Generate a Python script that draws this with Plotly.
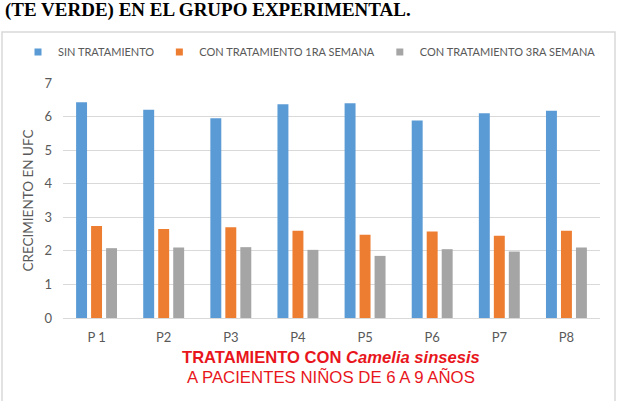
import plotly.graph_objects as go

categories = ["P 1", "P2", "P3", "P4", "P5", "P6", "P7", "P8"]
sin_tratamiento = [6.43, 6.20, 5.95, 6.37, 6.40, 5.88, 6.10, 6.17]
con_trat_1ra = [2.74, 2.65, 2.70, 2.60, 2.48, 2.58, 2.45, 2.60]
con_trat_3ra = [2.08, 2.10, 2.11, 2.03, 1.85, 2.05, 1.98, 2.10]
series_names = ["SIN TRATAMIENTO", "CON TRATAMIENTO 1RA SEMANA", "CON TRATAMIENTO 3RA SEMANA"]
colors = ["#5b9bd5", "#ed7d31", "#a5a5a5"]

fig = go.Figure()
for name, vals, col in zip(series_names, [sin_tratamiento, con_trat_1ra, con_trat_3ra], colors):
    fig.add_trace(go.Bar(x=categories, y=vals, name=name, marker_color=col,
                         marker_line_width=0, showlegend=False))
    fig.add_trace(go.Scatter(x=[None], y=[None], mode="markers", name=name,
                             marker=dict(symbol="square", size=7, color=col),
                             showlegend=True))

H_PLOT = 401 - 83 - 83

def py(p):
    # pixel from top -> paper y
    return (318 - p) / H_PLOT

def px(p):
    return (p - 63) / (622 - 63 - 22)

fig.update_layout(
    width=622, height=401,
    margin=dict(l=63, r=22, t=83, b=83, autoexpand=False),
    paper_bgcolor="white", plot_bgcolor="white",
    barmode="group", bargap=0.33, bargroupgap=0.27,
    font=dict(family="Lato, Open Sans, sans-serif", color="#595959", size=12),
    legend=dict(orientation="h", x=px(18), xanchor="left", y=py(52), yanchor="middle",
                font=dict(size=11, color="#595959"), itemwidth=30,
                bgcolor="rgba(0,0,0,0)"),
    xaxis=dict(showgrid=False, showline=True, linecolor="#d9d9d9", linewidth=1,
               ticks="", tickfont=dict(size=13, color="#595959"),
               ticklabelstandoff=7, fixedrange=True),
    yaxis=dict(range=[0, 7], dtick=1, showgrid=True, gridcolor="#d9d9d9", gridwidth=1,
               zeroline=False, showline=False, ticks="",
               tickfont=dict(size=13, color="#595959"), ticklabelstandoff=10,
               title=dict(text="CRECIMIENTO EN UFC", font=dict(size=13.5, color="#595959"),
                          standoff=7),
               fixedrange=True),
    shapes=[dict(type="rect", xref="paper", yref="paper",
                 x0=px(2), x1=px(615), y0=py(410), y1=py(32),
                 line=dict(color="#d9d9d9", width=1.5), fillcolor="rgba(0,0,0,0)",
                 layer="below")],
    annotations=[
        dict(text="<b>(TE VERDE) EN EL GRUPO EXPERIMENTAL.</b>", xref="paper", yref="paper",
             x=px(3), y=py(9.5), xanchor="left", yanchor="middle", showarrow=False,
             font=dict(family="Liberation Serif, Times New Roman, serif", size=19,
                       color="#000000")),
        dict(text="<b>TRATAMIENTO CON <i>Camelia sinsesis</i></b>", xref="paper", yref="paper",
             x=px(331), y=py(357), xanchor="center", yanchor="middle", showarrow=False,
             font=dict(family="Liberation Sans, Arial, sans-serif", size=16.6, color="#e8161c")),
        dict(text="A PACIENTES NIÑOS DE 6 A 9 AÑOS", xref="paper", yref="paper",
             x=px(331), y=py(377.5), xanchor="center", yanchor="middle", showarrow=False,
             font=dict(family="Liberation Sans, Arial, sans-serif", size=16.8, color="#e8161c")),
    ],
)
fig.write_html("out.html")
